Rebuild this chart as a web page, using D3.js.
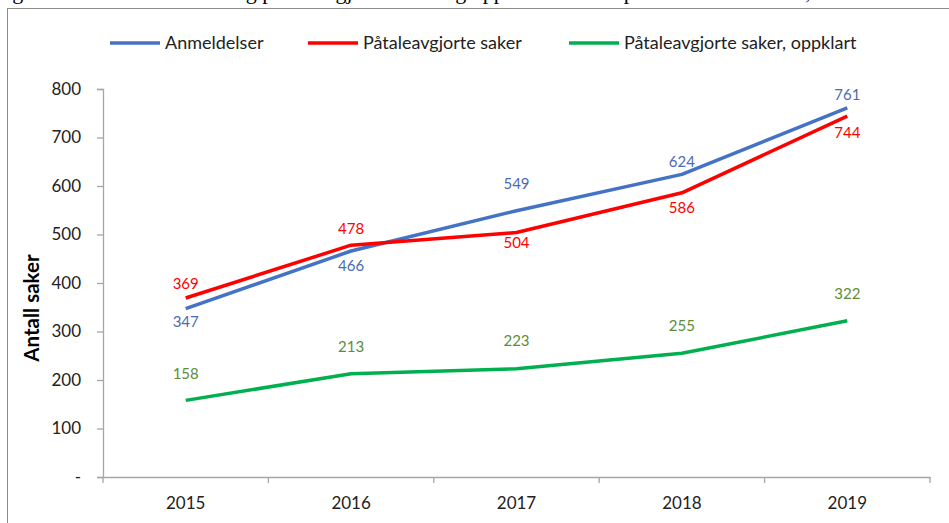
<!DOCTYPE html>
<html>
<head>
<meta charset="utf-8">
<script src="https://cdn.jsdelivr.net/npm/d3@7"></script>
<style>
  body { margin: 0; background: #fff; }
  text { font-family: Lato, "Open Sans", sans-serif; }
</style>
</head>
<body>
<div id="chart"></div>
<script>
// data
const years = ['2015', '2016', '2017', '2018', '2019'];
const anmeldelser = [347, 466, 549, 624, 761];
const paataleavgjorte = [369, 478, 504, 586, 744];
const oppklart = [158, 213, 223, 255, 322];
const yTicks = [0, 100, 200, 300, 400, 500, 600, 700, 800];

// label placement: vertical shift of each label centre from its point, in px
const series = [
  { name: 'Anmeldelser', values: anmeldelser, color: '#4472C4', labelColor: '#4A6CB0', shift: [13, 15, -27, -13, -13] },
  { name: 'Påtaleavgjorte saker', values: paataleavgjorte, color: '#FF0000', labelColor: '#FF0000', shift: [-14, -16, 10, 15, 17] },
  { name: 'Påtaleavgjorte saker, oppklart', values: oppklart, color: '#00B050', labelColor: '#5E8C3A', shift: [-27, -27, -28, -28, -27] }
];

const W = 949, H = 523;
const svg = d3.select('#chart').append('svg')
  .attr('width', W)
  .attr('height', H);

// caption of the document, mostly cut off by the crop
svg.append('text')
  .attr('x', -6)
  .attr('y', -1)
  .style('font-family', '"Liberation Serif", serif')
  .style('font-size', '22px')
  .attr('fill', '#000')
  .text('Figur 1 Antall anmeldelser og påtaleavgjorte saker og oppklarte saker i perioden 2015–2019, vold mot offentlig tjenesteperson');

// chart frame
svg.append('rect')
  .attr('x', 7.5).attr('y', 8.5)
  .attr('width', 1000).attr('height', 1000)
  .attr('fill', 'none')
  .attr('stroke', '#8c8c8c');

const x = d3.scaleBand().domain(years).range([103, 930]);
const y = d3.scaleLinear().domain([0, 800]).range([477, 89]);

// y axis
const yAxis = svg.append('g')
  .attr('transform', 'translate(103,0)')
  .call(d3.axisLeft(y).tickValues(yTicks).tickSize(6).tickPadding(16)
    .tickFormat(d => d === 0 ? '-' : d));
yAxis.selectAll('text').style('font-size', '17px').attr('fill', '#222');

// x axis
const xAxis = svg.append('g')
  .attr('transform', 'translate(0,477)')
  .call(d3.axisBottom(x).tickSize(0).tickPadding(20));
xAxis.selectAll('text').style('font-size', '17px').attr('fill', '#222');
xAxis.selectAll('.bound')
  .data(years.concat(['end']))
  .enter().append('line')
  .attr('class', 'bound')
  .attr('x1', (d, i) => i < years.length ? x(d) : x.range()[1])
  .attr('x2', (d, i) => i < years.length ? x(d) : x.range()[1])
  .attr('y1', 0).attr('y2', 6);

svg.selectAll('.domain, .tick line, .bound')
  .attr('stroke', '#a6a6a6')
  .attr('stroke-width', 1.3);

// y title
svg.append('text')
  .attr('transform', 'translate(39,308) rotate(-90)')
  .attr('text-anchor', 'middle')
  .style('font-size', '20.5px')
  .style('font-weight', 'bold')
  .text('Antall saker');

const cx = d => x(d) + x.bandwidth() / 2;
const line = d3.line()
  .x((d, i) => cx(years[i]))
  .y(d => y(d));

series.forEach(s => {
  svg.append('path')
    .datum(s.values)
    .attr('d', line)
    .attr('fill', 'none')
    .attr('stroke', s.color)
    .attr('stroke-width', 3.5)
    .attr('stroke-linejoin', 'round');

  svg.selectAll(null)
    .data(s.values)
    .enter().append('text')
    .attr('x', (d, i) => cx(years[i]))
    .attr('y', (d, i) => y(d) + s.shift[i])
    .attr('dy', '0.35em')
    .attr('text-anchor', 'middle')
    .style('font-size', '15px')
    .attr('fill', s.labelColor)
    .text(d => d);
});

// legend
const legendX = [110, 308, 569];
const legend = svg.selectAll('.legend')
  .data(series)
  .enter().append('g')
  .attr('class', 'legend')
  .attr('transform', (d, i) => `translate(${legendX[i]},43)`);
legend.append('line')
  .attr('x1', 0).attr('x2', 50)
  .attr('stroke', d => d.color)
  .attr('stroke-width', 3.5);
legend.append('text')
  .attr('x', 55).attr('dy', '0.35em')
  .style('font-size', '18px')
  .attr('fill', '#222')
  .text(d => d.name);
</script>
</body>
</html>
